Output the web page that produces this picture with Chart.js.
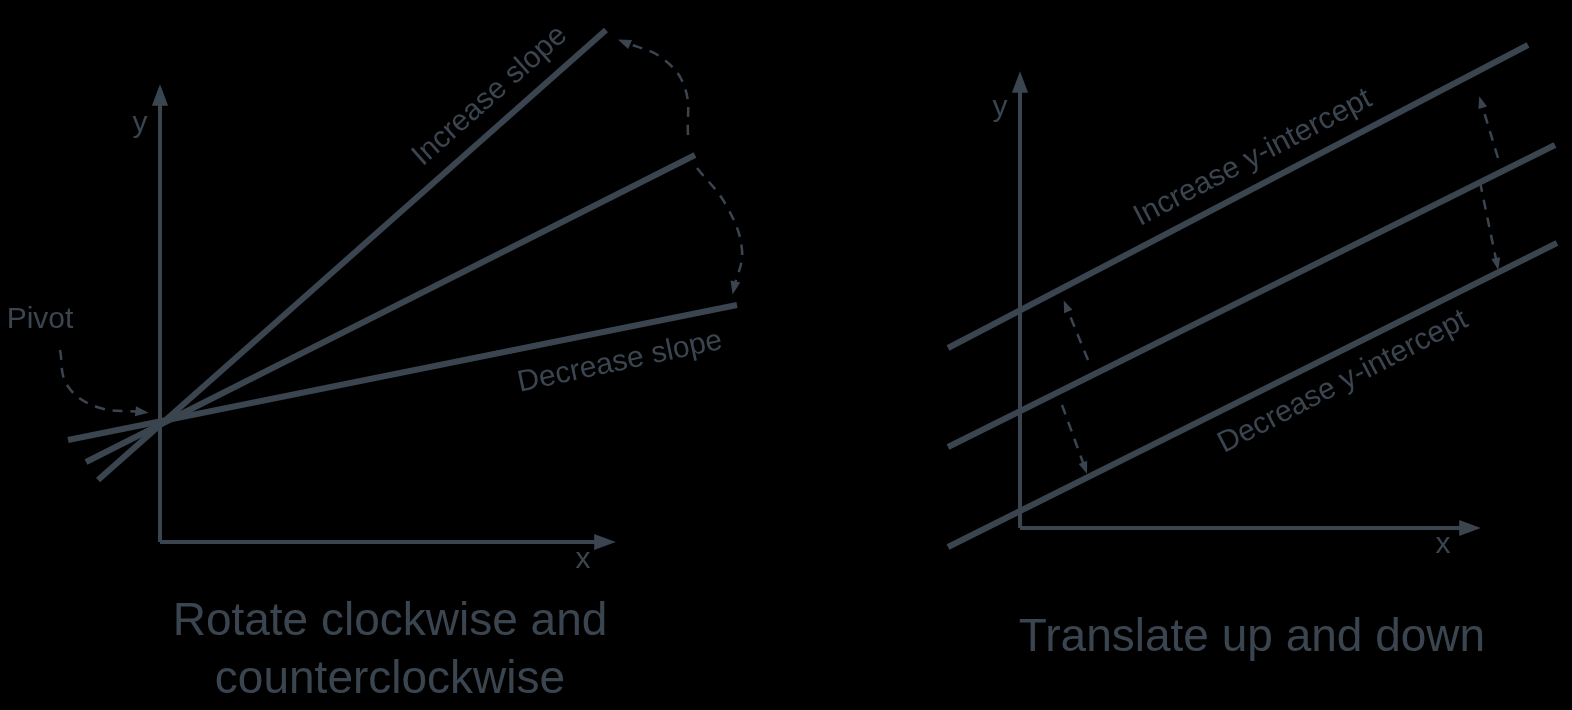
<!DOCTYPE html>
<html>
<head>
<meta charset="utf-8">
<script src="https://cdn.jsdelivr.net/npm/chart.js@4/dist/chart.umd.min.js"></script>
<style>
  body { margin: 0; background: #000; }
  #wrap { width: 1572px; height: 710px; }
</style>
</head>
<body>
<div id="wrap"><canvas id="c"></canvas></div>
<script>
var ink = "#3b4550";

// diagram units: x left→right, y top→bottom (same frame as the picture)
var leftAxisY = [{x: 160, y: 542}, {x: 160, y: 95}];
var leftAxisX = [{x: 160, y: 542}, {x: 605, y: 542}];
var increaseSlope = [{x: 98, y: 480}, {x: 606, y: 30}];
var baseSlope = [{x: 86, y: 462}, {x: 695, y: 155}];
var decreaseSlope = [{x: 68, y: 440}, {x: 737, y: 305}];
var arcUp = [{x: 688, y: 135}, {x: 685, y: 88}, {x: 662, y: 58}, {x: 624, y: 42}];
var arcDown = [{x: 697, y: 168}, {x: 726, y: 205}, {x: 742, y: 250}, {x: 734, y: 288}];
var arcPivot = [{x: 60, y: 350}, {x: 67, y: 385}, {x: 97, y: 407}, {x: 142, y: 412}];

var rightAxisY = [{x: 1020, y: 528}, {x: 1020, y: 82}];
var rightAxisX = [{x: 1020, y: 528}, {x: 1470, y: 528}];
var upperLine = [{x: 948, y: 348}, {x: 1528, y: 45}];
var middleLine = [{x: 948, y: 447}, {x: 1555, y: 145}];
var lowerLine = [{x: 948, y: 547}, {x: 1557, y: 243}];
var dashUpL = [{x: 1088, y: 360}, {x: 1066, y: 306}];
var dashDownL = [{x: 1062, y: 405}, {x: 1085, y: 468}];
var dashUpR = [{x: 1498, y: 158}, {x: 1481, y: 102}];
var dashDownR = [{x: 1480, y: 182}, {x: 1497, y: 264}];

var labels = [
  {t: "y", x: 140, y: 124, r: 0, s: 30},
  {t: "x", x: 583, y: 560, r: 0, s: 30},
  {t: "Pivot", x: 40, y: 320, r: 0, s: 30},
  {t: "Increase slope", x: 490, y: 96, r: -41.5, s: 30},
  {t: "Decrease slope", x: 620, y: 362, r: -12, s: 30},
  {t: "Rotate clockwise and", x: 390, y: 622, r: 0, s: 46},
  {t: "counterclockwise", x: 390, y: 680, r: 0, s: 46},
  {t: "y", x: 1000, y: 108, r: 0, s: 30},
  {t: "x", x: 1443, y: 545, r: 0, s: 30},
  {t: "Increase y-intercept", x: 1253, y: 158, r: -27.5, s: 30},
  {t: "Decrease y-intercept", x: 1343, y: 382, r: -27.5, s: 30},
  {t: "Translate up and down", x: 1252, y: 638, r: 0, s: 46}
];

var solidThick = [increaseSlope, baseSlope, decreaseSlope, upperLine, middleLine, lowerLine];
var axes = [leftAxisY, leftAxisX, rightAxisY, rightAxisX];
var dashed = [arcUp, arcDown, arcPivot, dashUpL, dashDownL, dashUpR, dashDownR];
var heads = [
  {line: leftAxisY, size: 18}, {line: leftAxisX, size: 18},
  {line: rightAxisY, size: 18}, {line: rightAxisX, size: 18},
  {line: arcUp, size: 11}, {line: arcDown, size: 11}, {line: arcPivot, size: 11},
  {line: dashUpL, size: 10}, {line: dashDownL, size: 10},
  {line: dashUpR, size: 10}, {line: dashDownR, size: 10}
];

var datasets = [];
solidThick.forEach(function(d) {
  datasets.push({data: d, borderColor: ink, borderWidth: 6, pointRadius: 0, showLine: true});
});
axes.forEach(function(d) {
  datasets.push({data: d, borderColor: ink, borderWidth: 4, pointRadius: 0, showLine: true});
});
dashed.forEach(function(d) {
  datasets.push({data: d, borderColor: ink, borderWidth: 2.5, pointRadius: 0, showLine: true,
    borderDash: [10, 8], tension: 0.4});
});

var decor = {
  id: "decor",
  afterDatasetsDraw: function(chart) {
    var ctx = chart.ctx, sx = chart.scales.x, sy = chart.scales.y;
    ctx.save();
    ctx.fillStyle = ink;
    heads.forEach(function(h) {
      var n = h.line.length, a = h.line[n - 2], b = h.line[n - 1];
      var bx = sx.getPixelForValue(b.x), by = sy.getPixelForValue(b.y);
      var ang = Math.atan2(by - sy.getPixelForValue(a.y), bx - sx.getPixelForValue(a.x));
      ctx.save();
      ctx.translate(bx, by);
      ctx.rotate(ang);
      ctx.beginPath();
      ctx.moveTo(h.size * 0.6, 0);
      ctx.lineTo(-h.size * 0.6, -h.size * 0.45);
      ctx.lineTo(-h.size * 0.6, h.size * 0.45);
      ctx.closePath();
      ctx.fill();
      ctx.restore();
    });
    ctx.textAlign = "center";
    ctx.textBaseline = "middle";
    labels.forEach(function(l) {
      ctx.save();
      ctx.translate(sx.getPixelForValue(l.x), sy.getPixelForValue(l.y));
      ctx.rotate(l.r * Math.PI / 180);
      ctx.font = l.s + "px 'Liberation Sans', Arial, sans-serif";
      ctx.fillText(l.t, 0, 0);
      ctx.restore();
    });
    ctx.restore();
  }
};

new Chart(document.getElementById("c"), {
  type: "scatter",
  data: {datasets: datasets},
  options: {
    responsive: true,
    maintainAspectRatio: false,
    animation: false,
    layout: {padding: 0},
    plugins: {legend: {display: false}, tooltip: {enabled: false}},
    scales: {
      x: {type: "linear", min: 0, max: 1572, display: false},
      y: {type: "linear", min: 0, max: 710, reverse: true, display: false}
    }
  },
  plugins: [decor]
});
</script>
</body>
</html>
